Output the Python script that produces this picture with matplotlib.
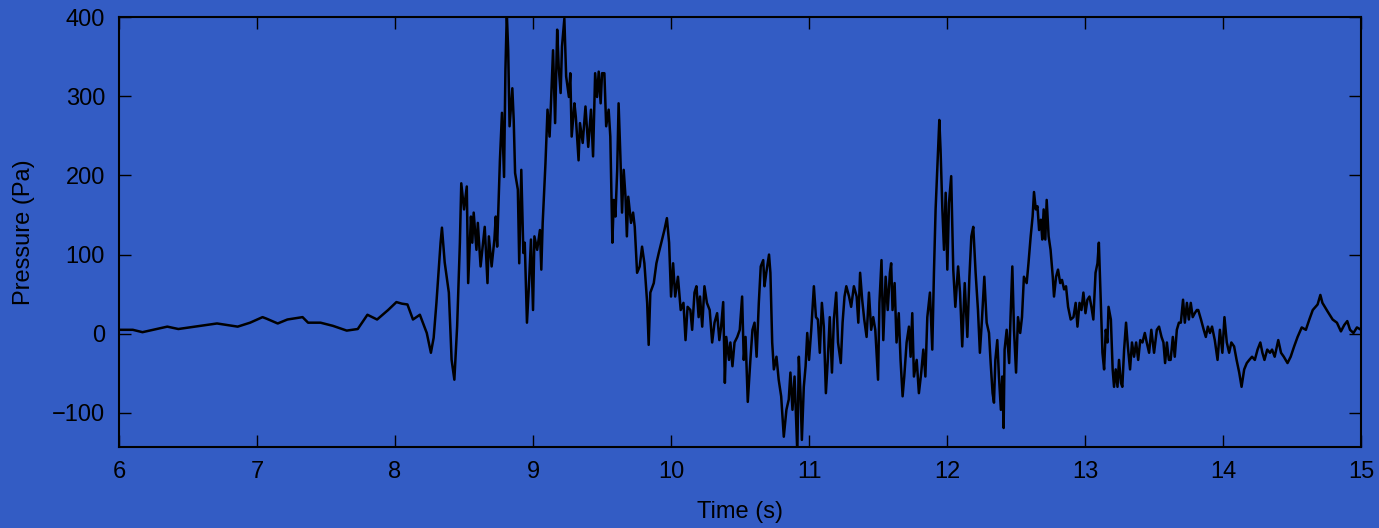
import numpy as np
import matplotlib
matplotlib.use('Agg')
from matplotlib import pyplot as plt

# pressure trace (time in s, pressure in Pa)
time_s = [
    6.0, 6.10, 6.17, 6.35, 6.43, 6.59, 6.71, 6.86, 6.95, 7.04, 7.07, 7.15, 7.22, 7.33, 7.37, 7.46,
    7.55, 7.65, 7.73, 7.80, 7.87, 7.95, 8.01, 8.05, 8.09, 8.13, 8.18, 8.23, 8.26, 8.28, 8.30, 8.33,
    8.34, 8.36, 8.39, 8.41, 8.43, 8.45, 8.47, 8.48, 8.50, 8.52, 8.53, 8.55, 8.56, 8.57, 8.59, 8.60,
    8.62, 8.65, 8.67, 8.68, 8.70, 8.72, 8.73, 8.74, 8.76, 8.775, 8.79, 8.80, 8.81, 8.82, 8.83, 8.85,
    8.86, 8.87, 8.89, 8.90, 8.915, 8.93, 8.94, 8.956, 8.97, 8.985, 9.0, 9.01, 9.03, 9.05, 9.06, 9.07,
    9.09, 9.105, 9.12, 9.13, 9.145, 9.16, 9.175, 9.186, 9.2, 9.21, 9.227, 9.24, 9.26, 9.27, 9.28, 9.30,
    9.31, 9.33, 9.34, 9.36, 9.38, 9.40, 9.42, 9.435, 9.45, 9.464, 9.476, 9.49, 9.50, 9.517, 9.53, 9.548,
    9.56, 9.575, 9.585, 9.597, 9.61, 9.62, 9.633, 9.645, 9.657, 9.67, 9.68, 9.69, 9.71, 9.725, 9.737, 9.754,
    9.773, 9.79, 9.807, 9.827, 9.838, 9.85, 9.875, 9.894, 9.911, 9.935, 9.952, 9.97, 9.986, 10.0, 10.015, 10.03,
    10.05, 10.07, 10.09, 10.105, 10.12, 10.14, 10.153, 10.17, 10.184, 10.2, 10.21, 10.226, 10.242, 10.26, 10.28, 10.298,
    10.315, 10.334, 10.35, 10.363, 10.378, 10.39, 10.40, 10.42, 10.43, 10.445, 10.46, 10.48, 10.498, 10.515, 10.527, 10.54,
    10.556, 10.575, 10.59, 10.605, 10.62, 10.636, 10.65, 10.668, 10.677, 10.69, 10.71, 10.72, 10.733, 10.745, 10.764, 10.78,
    10.798, 10.817, 10.836, 10.853, 10.865, 10.88, 10.895, 10.915, 10.926, 10.938, 10.948, 10.962, 10.975, 10.987, 11.0, 11.016,
    11.035, 11.05, 11.064, 11.078, 11.093, 11.107, 11.122, 11.136, 11.15, 11.166, 11.18, 11.197, 11.21, 11.23, 11.243, 11.257,
    11.27, 11.29, 11.305, 11.325, 11.345, 11.357, 11.37, 11.385, 11.40, 11.417, 11.434, 11.45, 11.465, 11.48, 11.50, 11.51,
    11.525, 11.538, 11.555, 11.57, 11.586, 11.595, 11.605, 11.62, 11.634, 11.65, 11.663, 11.678, 11.69, 11.707, 11.724, 11.736,
    11.748, 11.76, 11.78, 11.796, 11.813, 11.828, 11.843, 11.857, 11.876, 11.893, 11.905, 11.917, 11.93, 11.944, 11.953, 11.966,
    11.978, 11.99, 12.002, 12.014, 12.03, 12.045, 12.06, 12.08, 12.094, 12.11, 12.128, 12.147, 12.162, 12.176, 12.19, 12.207,
    12.224, 12.238, 12.253, 12.27, 12.287, 12.304, 12.316, 12.33, 12.34, 12.35, 12.364, 12.376, 12.39, 12.40, 12.41, 12.417,
    12.432, 12.45, 12.46, 12.473, 12.485, 12.50, 12.514, 12.53, 12.543, 12.557, 12.577, 12.59, 12.606, 12.62, 12.63, 12.643,
    12.655, 12.667, 12.68, 12.69, 12.70, 12.712, 12.722, 12.736, 12.75, 12.766, 12.775, 12.79, 12.804, 12.82, 12.833, 12.848,
    12.862, 12.877, 12.896, 12.916, 12.932, 12.945, 12.96, 12.974, 12.988, 13.003, 13.017, 13.032, 13.046, 13.06, 13.076, 13.09,
    13.10, 13.114, 13.126, 13.138, 13.15, 13.162, 13.17, 13.187, 13.20, 13.21, 13.222, 13.235, 13.246, 13.26, 13.27, 13.283,
    13.297, 13.31, 13.326, 13.34, 13.355, 13.37, 13.385, 13.40, 13.416, 13.433, 13.447, 13.464, 13.48, 13.50, 13.52, 13.536,
    13.554, 13.568, 13.58, 13.593, 13.607, 13.62, 13.636, 13.65, 13.665, 13.68, 13.694, 13.71, 13.723, 13.738, 13.752, 13.766,
    13.78, 13.795, 13.81, 13.82, 13.84, 13.86, 13.875, 13.89, 13.905, 13.92, 13.94, 13.96, 13.977, 13.995, 14.01, 14.027,
    14.044, 14.06, 14.08, 14.098, 14.117, 14.134, 14.153, 14.172, 14.19, 14.21, 14.23, 14.25, 14.27, 14.285, 14.30, 14.32,
    14.34, 14.355, 14.374, 14.39, 14.40, 14.42, 14.44, 14.467, 14.49, 14.515, 14.54, 14.57, 14.60, 14.625, 14.65, 14.685,
    14.705, 14.72, 14.758, 14.794, 14.825, 14.854, 14.878, 14.90, 14.92, 14.945, 14.97, 15.0,
]
pressure_pa = [
    5, 5, 2, 9, 6, 10, 13, 9, 14, 21, 19, 13, 18, 21, 14, 14,
    10, 4, 6, 24, 18, 30, 40, 38, 37, 18, 24, 1, -24, -5, 39, 115,
    134, 90, 52, -33, -58, 9, 115, 190, 157, 186, 64, 148, 115, 153, 106, 140,
    85, 135, 64, 123, 85, 119, 148, 110, 219, 279, 198, 333, 405, 358, 262, 310,
    270, 203, 182, 89, 207, 102, 115, 14, 60, 119, 30, 123, 106, 131, 81, 140,
    215, 283, 249, 291, 358, 266, 384, 337, 304, 363, 398, 325, 299, 329, 249, 291,
    274, 219, 266, 241, 287, 236, 283, 224, 329, 299, 331, 291, 329, 329, 262, 283,
    249, 115, 169, 148, 207, 291, 224, 153, 207, 173, 123, 173, 140, 153, 135, 77,
    85, 110, 89, 39, -14, 52, 64, 89, 102, 119, 131, 146, 115, 47, 89, 47,
    72, 30, 39, -8, 34, 30, 5, 52, 60, 21, 47, 9, 60, 39, 30, -11,
    14, 26, -8, 9, 40, -62, -4, -33, -11, -41, -11, -4, 5, 47, -33, -4,
    -86, -33, 5, 14, -29, 39, 85, 93, 60, 77, 100, 77, -11, -45, -29, -58,
    -79, -130, -96, -83, -49, -96, -54, -150, -29, -75, -134, -67, -41, 1, -33, 5,
    60, 21, 18, -24, 39, 9, -75, -33, 21, -49, 18, 52, -11, -37, 14, 47,
    60, 47, 34, 60, 47, 14, 77, 43, 18, -4, 52, 5, 21, 5, -58, 39,
    93, -8, 72, 30, 77, 89, 30, 64, -11, 26, -33, -79, -54, -11, 9, -29,
    26, -54, -33, -75, -49, -20, -54, 21, 52, -20, 77, 157, 211, 270, 232, 157,
    106, 178, 81, 165, 199, 81, 34, 85, 52, -16, 64, -4, 72, 123, 135, 77,
    30, -24, 18, 72, 14, 1, -37, -75, -87, -33, -8, -54, -96, -54, -119, -20,
    5, -37, 21, 85, 5, -49, 21, 1, 21, 72, 64, 89, 123, 148, 179, 157,
    161, 131, 144, 119, 157, 119, 169, 123, 106, 72, 47, 72, 81, 64, 68, 56,
    60, 34, 18, 21, 39, 9, 39, 30, 52, 26, 43, 47, 34, 18, 77, 89,
    115, 39, -24, -45, 5, -11, 34, 18, -45, -67, -45, -67, -33, -62, -67, -20,
    14, -16, -45, -11, -29, -11, -33, -8, -11, 1, -11, -24, 5, -24, 5, 9,
    -4, -11, -37, -11, -33, -33, -4, -29, 5, 14, 14, 43, 14, 39, 18, 39,
    21, 26, 30, 30, 18, 5, -4, 9, 1, 9, -8, -33, 5, -24, 21, -11,
    -24, -11, -16, -33, -49, -67, -45, -37, -33, -29, -33, -20, -11, -24, -33, -20,
    -24, -20, -29, -16, -8, -24, -29, -37, -29, -16, -4, 8, 5, 18, 30, 37,
    49, 39, 28, 18, 14, 3, 11, 16, 5, 1, 8, 5,
]

x_ticks = [6, 7, 8, 9, 10, 11, 12, 13, 14, 15]
y_ticks = [-100, 0, 100, 200, 300, 400]

bg = '#335CC4'
plt.rcParams['font.family'] = ['Liberation Sans', 'DejaVu Sans']

fig = plt.figure(figsize=(13.79, 5.28), dpi=100, facecolor=bg)
ax = fig.add_axes([0.0863, 0.1534, 0.9007, 0.8144])
ax.set_facecolor(bg)

ax.plot(time_s, pressure_pa, color='black', lw=1.8)

ax.set_xlim(6, 15)
ax.set_ylim(-143, 400)
ax.set_xticks(x_ticks)
ax.set_yticks(y_ticks)
ax.tick_params(direction='in', length=8.5, width=1.0, top=True, right=True,
               labelsize=17, pad=10, colors='black')
for s in ax.spines.values():
    s.set_linewidth(1.5)

ax.set_xlabel('Time (s)', fontsize=17, labelpad=13)
ax.set_ylabel('Pressure (Pa)', fontsize=17, labelpad=12)

plt.savefig('out.png', dpi=100, facecolor=bg)
